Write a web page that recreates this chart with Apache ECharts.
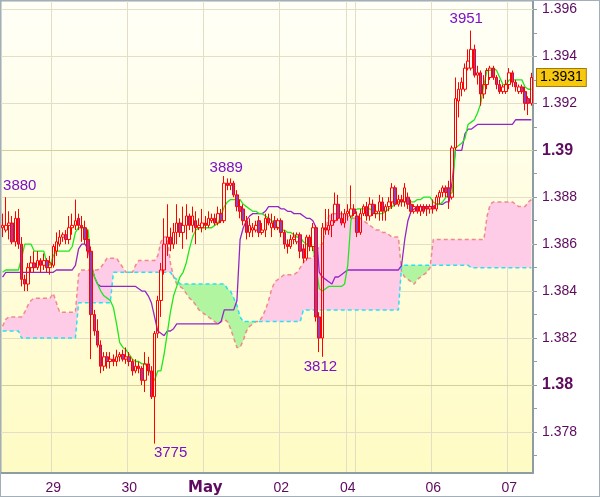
<!DOCTYPE html>
<html><head><meta charset="utf-8">
<script src="https://cdn.jsdelivr.net/npm/echarts@6/dist/echarts.min.js"></script>
<style>html,body{margin:0;padding:0;background:#fff}#c{width:600px;height:497px}</style>
</head><body><div id="c"></div>
<script>
// ---- hourly OHLC (EUR/USD-style quote) ----
const open = [
1.3867,1.3866,1.3868,1.3869,1.3861,1.3871,1.3860,1.3845,1.3843,1.3850,
1.3852,1.3850,1.3853,1.3851,1.3853,1.3850,1.3851,1.3857,1.3860,1.3863,
1.3864,1.3862,1.3867,1.3868,1.3871,1.3868,1.3867,1.3862,1.3857,1.3830,
1.3823,1.3817,1.3808,1.3812,1.3810,1.3811,1.3810,1.3812,1.3813,1.3811,
1.3812,1.3810,1.3806,1.3808,1.3807,1.3802,1.3809,1.3806,1.3795,1.3822,
1.3836,1.3849,1.3860,1.3863,1.3860,1.3865,1.3869,1.3865,1.3868,1.3872,
1.3868,1.3870,1.3867,1.3867,1.3869,1.3868,1.3870,1.3871,1.3869,1.3873,
1.3870,1.3886,1.3885,1.3886,1.3881,1.3876,1.3875,1.3870,1.3865,1.3866,
1.3866,1.3870,1.3865,1.3866,1.3871,1.3867,1.3870,1.3867,1.3870,1.3865,
1.3860,1.3859,1.3862,1.3861,1.3864,1.3858,1.3854,1.3863,1.3859,1.3867,
1.3829,1.3820,1.3867,1.3866,1.3868,1.3870,1.3877,1.3871,1.3869,1.3873,
1.3872,1.3875,1.3872,1.3865,1.3873,1.3876,1.3872,1.3877,1.3873,1.3874,
1.3878,1.3874,1.3876,1.3878,1.3884,1.3877,1.3879,1.3878,1.3880,1.3877,
1.3874,1.3876,1.3874,1.3876,1.3876,1.3875,1.3876,1.3875,1.3880,1.3882,
1.3884,1.3884,1.3880,1.3901,1.3921,1.3926,1.3926,1.3935,1.3935,1.3943,
1.3932,1.3933,1.3924,1.3928,1.3931,1.3935,1.3931,1.3928,1.3925,1.3925,
1.3928,1.3933,1.3929,1.3925,1.3927,1.3925,1.3922,1.3920];
const close = [
1.3868,1.3868,1.3869,1.3861,1.3871,1.3860,1.3845,1.3843,1.3850,1.3852,
1.3850,1.3853,1.3851,1.3853,1.3850,1.3852,1.3859,1.3861,1.3863,1.3864,
1.3862,1.3867,1.3868,1.3870,1.3868,1.3867,1.3862,1.3857,1.3830,1.3823,
1.3817,1.3808,1.3812,1.3810,1.3811,1.3810,1.3812,1.3813,1.3811,1.3812,
1.3810,1.3806,1.3808,1.3807,1.3802,1.3809,1.3806,1.3795,1.3822,1.3836,
1.3849,1.3860,1.3863,1.3860,1.3865,1.3869,1.3865,1.3868,1.3872,1.3868,
1.3872,1.3867,1.3868,1.3869,1.3868,1.3871,1.3871,1.3869,1.3873,1.3870,
1.3886,1.3885,1.3886,1.3881,1.3876,1.3874,1.3870,1.3865,1.3868,1.3867,
1.3868,1.3865,1.3866,1.3871,1.3869,1.3869,1.3867,1.3870,1.3865,1.3860,
1.3859,1.3862,1.3863,1.3864,1.3857,1.3854,1.3863,1.3859,1.3867,1.3829,
1.3820,1.3867,1.3866,1.3868,1.3870,1.3877,1.3871,1.3869,1.3873,1.3874,
1.3875,1.3873,1.3865,1.3873,1.3876,1.3872,1.3877,1.3873,1.3874,1.3878,
1.3874,1.3876,1.3878,1.3884,1.3877,1.3879,1.3878,1.3884,1.3877,1.3874,
1.3876,1.3874,1.3876,1.3874,1.3875,1.3876,1.3875,1.3880,1.3882,1.3884,
1.3882,1.3880,1.3901,1.3922,1.3926,1.3929,1.3935,1.3938,1.3943,1.3932,
1.3933,1.3924,1.3928,1.3934,1.3935,1.3931,1.3928,1.3925,1.3927,1.3928,
1.3933,1.3929,1.3927,1.3927,1.3925,1.3920,1.3920,1.3931];
const low = [
1.3863,1.3865,1.3862,1.3860,1.3859,1.3858,1.3842,1.3840,1.3840,1.3848,
1.3848,1.3849,1.3848,1.3849,1.3848,1.3847,1.3850,1.3855,1.3859,1.3861,
1.3860,1.3860,1.3864,1.3866,1.3866,1.3861,1.3860,1.3854,1.3811,1.3821,
1.3816,1.3805,1.3806,1.3807,1.3807,1.3808,1.3808,1.3810,1.3810,1.3809,
1.3808,1.3804,1.3805,1.3805,1.3800,1.3797,1.3804,1.3794,1.3775,1.3820,
1.3829,1.3847,1.3855,1.3857,1.3858,1.3860,1.3863,1.3858,1.3862,1.3866,
1.3865,1.3860,1.3866,1.3865,1.3866,1.3867,1.3869,1.3868,1.3868,1.3869,
1.3869,1.3883,1.3883,1.3880,1.3874,1.3871,1.3868,1.3862,1.3863,1.3863,
1.3865,1.3863,1.3864,1.3863,1.3868,1.3863,1.3866,1.3866,1.3863,1.3858,
1.3856,1.3858,1.3860,1.3860,1.3854,1.3852,1.3853,1.3857,1.3857,1.3827,
1.3814,1.3812,1.3864,1.3864,1.3863,1.3869,1.3870,1.3868,1.3867,1.3870,
1.3871,1.3872,1.3863,1.3864,1.3872,1.3870,1.3870,1.3872,1.3871,1.3870,
1.3870,1.3870,1.3874,1.3875,1.3876,1.3876,1.3876,1.3876,1.3875,1.3873,
1.3873,1.3873,1.3872,1.3873,1.3872,1.3873,1.3873,1.3874,1.3877,1.3880,
1.3880,1.3875,1.3879,1.3900,1.3914,1.3923,1.3925,1.3934,1.3934,1.3931,
1.3928,1.3919,1.3922,1.3926,1.3930,1.3930,1.3926,1.3924,1.3924,1.3924,
1.3926,1.3927,1.3925,1.3924,1.3924,1.3917,1.3915,1.3919];
const high = [
1.3873,1.3880,1.3874,1.3872,1.3874,1.3875,1.3863,1.3847,1.3852,1.3855,
1.3857,1.3857,1.3854,1.3856,1.3854,1.3855,1.3860,1.3865,1.3866,1.3865,
1.3866,1.3872,1.3873,1.3879,1.3873,1.3872,1.3870,1.3866,1.3859,1.3832,
1.3828,1.3819,1.3814,1.3814,1.3814,1.3813,1.3815,1.3814,1.3815,1.3816,
1.3814,1.3811,1.3811,1.3810,1.3808,1.3814,1.3812,1.3808,1.3823,1.3838,
1.3852,1.3871,1.3877,1.3867,1.3869,1.3877,1.3871,1.3876,1.3877,1.3873,
1.3876,1.3874,1.3871,1.3875,1.3872,1.3874,1.3873,1.3873,1.3876,1.3875,
1.3889,1.3888,1.3888,1.3887,1.3883,1.3879,1.3877,1.3872,1.3871,1.3869,
1.3870,1.3872,1.3869,1.3873,1.3873,1.3873,1.3872,1.3871,1.3871,1.3866,
1.3862,1.3864,1.3865,1.3865,1.3865,1.3860,1.3864,1.3864,1.3869,1.3868,
1.3831,1.3869,1.3875,1.3875,1.3873,1.3882,1.3881,1.3874,1.3875,1.3877,
1.3885,1.3877,1.3874,1.3875,1.3877,1.3878,1.3880,1.3879,1.3877,1.3881,
1.3880,1.3877,1.3880,1.3886,1.3885,1.3881,1.3881,1.3886,1.3882,1.3879,
1.3877,1.3877,1.3877,1.3877,1.3877,1.3877,1.3879,1.3881,1.3883,1.3885,
1.3885,1.3887,1.3902,1.3931,1.3929,1.3931,1.3937,1.3943,1.3951,1.3945,
1.3936,1.3934,1.3932,1.3935,1.3936,1.3936,1.3932,1.3930,1.3928,1.3930,
1.3935,1.3934,1.3930,1.3928,1.3928,1.3927,1.3923,1.3933];

// ---- Ichimoku lines ----
const tenkan = [
1.3848,1.3849,1.3849,1.3849,1.3849,1.3849,1.3854,1.3860,1.3860,1.3860,
1.3857,1.3857,1.3857,1.3857,1.3852,1.3851,1.3855,1.3857,1.3857,1.3857,
1.3857,1.3857,1.3859,1.3865,1.3867,1.3867,1.3867,1.3866,1.3852,1.3846,
1.3843,1.3840,1.3838,1.3837,1.3836,1.3833,1.3826,1.3818,1.3816,1.3815,
1.3813,1.3811,1.3810,1.3810,1.3809,1.3809,1.3807,1.3804,1.3802,1.3806,
1.3806,1.3813,1.3822,1.3831,1.3838,1.3842,1.3846,1.3848,1.3852,1.3858,
1.3863,1.3866,1.3867,1.3867,1.3867,1.3867,1.3867,1.3868,1.3869,1.3872,
1.3876,1.3878,1.3879,1.3879,1.3879,1.3879,1.3877,1.3876,1.3875,1.3874,
1.3874,1.3873,1.3873,1.3872,1.3871,1.3870,1.3868,1.3867,1.3866,1.3866,
1.3865,1.3865,1.3864,1.3863,1.3863,1.3861,1.3860,1.3859,1.3859,1.3851,
1.3841,1.3840,1.3841,1.3842,1.3842,1.3842,1.3842,1.3842,1.3843,1.3851,
1.3870,1.3874,1.3875,1.3875,1.3875,1.3875,1.3875,1.3874,1.3873,1.3873,
1.3873,1.3874,1.3875,1.3876,1.3877,1.3878,1.3878,1.3878,1.3878,1.3878,
1.3878,1.3879,1.3879,1.3880,1.3880,1.3880,1.3878,1.3877,1.3877,1.3878,
1.3880,1.3881,1.3882,1.3901,1.3902,1.3903,1.3905,1.3911,1.3912,1.3913,
1.3916,1.3920,1.3928,1.3934,1.3934,1.3935,1.3934,1.3931,1.3928,1.3928,
1.3930,1.3930,1.3930,1.3930,1.3930,1.3927,1.3926,1.3926];
const kijun = [
1.3846,1.3848,1.3848,1.3848,1.3848,1.3848,1.3848,1.3848,1.3848,1.3848,
1.3848,1.3848,1.3848,1.3848,1.3848,1.3848,1.3848,1.3849,1.3849,1.3849,
1.3849,1.3849,1.3849,1.3851,1.3858,1.3860,1.3860,1.3858,1.3851,1.3846,
1.3843,1.3842,1.3842,1.3842,1.3842,1.3842,1.3842,1.3842,1.3842,1.3842,
1.3842,1.3842,1.3842,1.3841,1.3840,1.3840,1.3838,1.3835,1.3829,1.3823,
1.3822,1.3821,1.3823,1.3823,1.3824,1.3826,1.3826,1.3826,1.3826,1.3826,
1.3826,1.3826,1.3826,1.3826,1.3826,1.3826,1.3826,1.3826,1.3826,1.3827,
1.3832,1.3832,1.3832,1.3832,1.3836,1.3862,1.3867,1.3870,1.3872,1.3873,
1.3873,1.3873,1.3873,1.3874,1.3876,1.3876,1.3876,1.3876,1.3875,1.3875,
1.3874,1.3874,1.3873,1.3873,1.3873,1.3872,1.3871,1.3871,1.3870,1.3867,
1.3848,1.3846,1.3845,1.3844,1.3843,1.3846,1.3846,1.3847,1.3848,1.3849,
1.3849,1.3849,1.3849,1.3849,1.3849,1.3849,1.3849,1.3849,1.3849,1.3849,
1.3849,1.3849,1.3849,1.3849,1.3849,1.3849,1.3851,1.3862,1.3870,1.3874,
1.3875,1.3876,1.3876,1.3876,1.3876,1.3876,1.3876,1.3877,1.3877,1.3877,
1.3878,1.3878,1.3887,1.3900,1.3900,1.3900,1.3907,1.3909,1.3909,1.3910,
1.3911,1.3911,1.3911,1.3911,1.3911,1.3911,1.3911,1.3911,1.3911,1.3911,
1.3911,1.3911,1.3913,1.3913,1.3913,1.3913,1.3913,1.3913];
const spanA = [
1.3823,1.3823,1.3823,1.3823,1.3823,1.3823,1.3820,1.3820,1.3820,1.3820,
1.3820,1.3820,1.3820,1.3820,1.3820,1.3820,1.3820,1.3820,1.3820,1.3820,
1.3820,1.3820,1.3820,1.3820,1.3835,1.3835,1.3835,1.3835,1.3835,1.3835,
1.3835,1.3835,1.3835,1.3835,1.3835,1.3848,1.3848,1.3848,1.3848,1.3848,
1.3848,1.3848,1.3848,1.3848,1.3848,1.3848,1.3848,1.3848,1.3848,1.3848,
1.3848,1.3848,1.3848,1.3848,1.3846,1.3845,1.3843,1.3843,1.3843,1.3843,
1.3843,1.3843,1.3843,1.3843,1.3843,1.3843,1.3843,1.3843,1.3843,1.3843,
1.3843,1.3841,1.3840,1.3837,1.3834,1.3829,1.3827,1.3827,1.3827,1.3827,
1.3827,1.3827,1.3827,1.3827,1.3827,1.3827,1.3827,1.3827,1.3827,1.3827,
1.3827,1.3827,1.3827,1.3827,1.3827,1.3832,1.3832,1.3832,1.3832,1.3832,
1.3832,1.3832,1.3832,1.3832,1.3832,1.3832,1.3832,1.3832,1.3832,1.3832,
1.3832,1.3832,1.3832,1.3832,1.3832,1.3832,1.3832,1.3832,1.3832,1.3832,
1.3832,1.3832,1.3832,1.3832,1.3832,1.3832,1.3851,1.3851,1.3851,1.3851,
1.3851,1.3851,1.3851,1.3851,1.3851,1.3851,1.3851,1.3851,1.3851,1.3851,
1.3851,1.3851,1.3851,1.3851,1.3851,1.3851,1.3851,1.3851,1.3850,1.3850,
1.3850,1.3850,1.3850,1.3850,1.3850,1.3850,1.3850,1.3850,1.3850,1.3850,
1.3850,1.3850,1.3850,1.3850,1.3850,1.3850,1.3850,1.3850];
const spanB = [
1.3825,1.3828,1.3829,1.3829,1.3829,1.3829,1.3829,1.3831,1.3834,1.3836,
1.3837,1.3837,1.3837,1.3837,1.3837,1.3837,1.3839,1.3835,1.3831,1.3831,
1.3831,1.3831,1.3831,1.3831,1.3847,1.3849,1.3849,1.3849,1.3849,1.3849,
1.3849,1.3850,1.3852,1.3854,1.3854,1.3854,1.3854,1.3852,1.3850,1.3848,
1.3848,1.3848,1.3851,1.3853,1.3853,1.3853,1.3853,1.3853,1.3853,1.3855,
1.3861,1.3863,1.3863,1.3852,1.3846,1.3843,1.3842,1.3841,1.3839,1.3837,
1.3836,1.3834,1.3832,1.3831,1.3830,1.3829,1.3828,1.3827,1.3826,1.3827,
1.3828,1.3827,1.3824,1.3820,1.3816,1.3816,1.3819,1.3823,1.3825,1.3826,
1.3827,1.3827,1.3829,1.3832,1.3836,1.3841,1.3844,1.3845,1.3846,1.3847,
1.3847,1.3847,1.3847,1.3848,1.3850,1.3852,1.3854,1.3854,1.3854,1.3857,
1.3859,1.3860,1.3866,1.3872,1.3873,1.3873,1.3873,1.3873,1.3873,1.3872,
1.3871,1.3871,1.3871,1.3871,1.3870,1.3869,1.3868,1.3867,1.3866,1.3866,
1.3865,1.3865,1.3864,1.3863,1.3863,1.3863,1.3848,1.3846,1.3845,1.3844,
1.3843,1.3845,1.3846,1.3847,1.3848,1.3850,1.3862,1.3862,1.3862,1.3862,
1.3862,1.3862,1.3862,1.3862,1.3862,1.3862,1.3862,1.3862,1.3862,1.3862,
1.3862,1.3862,1.3862,1.3872,1.3877,1.3878,1.3878,1.3878,1.3878,1.3878,
1.3878,1.3878,1.3877,1.3876,1.3876,1.3876,1.3878,1.3879];

// ---- axis labels ----
const dayTickIdx = [16, 40, 64, 88, 109, 136, 160];
const dayTickText = ['29', '30', 'May', '02', '04', '06', '07'];
const dayGridIdx = [16, 40, 64, 88, 109, 112, 136, 160];
const priceLabelVals = [1.378, 1.380, 1.382, 1.384, 1.386, 1.388, 1.390, 1.392, 1.394, 1.396];
const priceLabelText = ['1.378', '1.38', '1.382', '1.384', '1.386', '1.388', '1.39', '1.392', '1.394', '1.396'];
const priceTickVals = [1.377,1.378,1.379,1.380,1.381,1.382,1.383,1.384,1.385,1.386,1.387,1.388,1.389,1.390,1.391,1.392,1.393,1.394,1.395,1.396];
const lastPrice = 1.3931;
const lastPriceText = '1.3931';
// ---- extreme annotations ----
const peakIdx = [1, 70, 48, 101, 148];
const peakVal = [1.3880, 1.3889, 1.3775, 1.3812, 1.3951];
const peakText = ['3880', '3889', '3775', '3812', '3951'];

const peakOffsets = [[14, -11], [2, -8], [16, 9], [-2, 10], [-5, -12]];
const categories = open.map((_, i) => 'h' + i);
const candles = open.map((o, i) => [o, close[i], low[i], high[i]]);
const cloudBase = spanA.map((a, i) => Math.min(a, spanB[i]));
const cloudPink = spanA.map((a, i) => Math.max(spanB[i] - a, 0));
const cloudGreen = spanA.map((a, i) => Math.max(a - spanB[i], 0));

const FONT = 'Liberation Sans';
const LBL = '#5e0a5e';
const chart = echarts.init(document.getElementById('c'), null, {renderer: 'canvas'});
const gridLineData = priceLabelVals.map(v => ({
  yAxis: v,
  lineStyle: {color: (Math.abs(v - 1.38) < 1e-9 || Math.abs(v - 1.39) < 1e-9) ? '#d4cf9c' : '#e2dfc6', width: 1, type: 'solid'}
}));

const lineBase = {type: 'line', symbol: 'none', silent: true, animation: false};
chart.setOption({
  animation: false,
  backgroundColor: '#ffffff',
  grid: {
    left: 1, right: 67, top: 1, bottom: 24, show: true,
    backgroundColor: new echarts.graphic.LinearGradient(0, 0, 0, 1, [
      {offset: 0, color: '#fffff7'}, {offset: 1, color: '#fffbc4'}]),
    borderColor: '#9aa8b0', borderWidth: 1
  },
  xAxis: {
    type: 'category', data: categories, boundaryGap: true,
    axisLine: {lineStyle: {color: '#8e9ca4', width: 2}},
    axisTick: {interval: (i) => dayTickIdx.indexOf(i) >= 0, length: 4, lineStyle: {color: '#8e9ca4'}},
    axisLabel: {
      interval: (i) => dayTickIdx.indexOf(i) >= 0,
      formatter: (v, i) => { const k = dayTickIdx.indexOf(i); if (k < 0) return ''; const t = dayTickText[k]; return t === 'May' ? '{b|' + t + '}' : t; },
      color: LBL, fontFamily: FONT, fontSize: 14, margin: 8,
      rich: {b: {fontFamily: 'DejaVu Sans', fontWeight: 'bold', fontSize: 15, color: LBL}}
    },
    splitLine: {show: true, interval: (i) => dayGridIdx.indexOf(i) >= 0, lineStyle: {color: '#e2dfc6', width: 1}}
  },
  yAxis: {
    type: 'value', position: 'right', min: 1.37625, max: 1.39636, scale: true,
    axisLine: {show: true, lineStyle: {color: '#8e9ca4', width: 2}},
    axisTick: {show: true, customValues: priceTickVals, length: 4, lineStyle: {color: '#8e9ca4'}},
    axisLabel: {
      customValues: priceLabelVals, margin: 9,
      formatter: (v) => { let k = -1; priceLabelVals.forEach((p, j) => { if (Math.abs(p - v) < 1e-7) k = j; }); if (k < 0) return ''; const t = priceLabelText[k]; return t.length === 4 ? '{b|' + t + '}' : t; },
      color: LBL, fontFamily: FONT, fontSize: 14,
      rich: {b: {fontFamily: FONT, fontWeight: 'bold', fontSize: 16, color: LBL}}
    },
    splitLine: {show: false}
  },
  series: [
    Object.assign({}, lineBase, {
      name: 'cloudBase', data: cloudBase, stack: 'cloud', z: 2,
      lineStyle: {width: 0, opacity: 0},
      markLine: {silent: true, symbol: 'none', z: 1, precision: 4, label: {show: false}, data: gridLineData, animation: false}
    }),
    Object.assign({}, lineBase, {name: 'cloudPink', data: cloudPink, stack: 'cloud', z: 2,
      lineStyle: {width: 0, opacity: 0}, areaStyle: {color: '#ffcce8', opacity: 1}}),
    Object.assign({}, lineBase, {name: 'cloudGreen', data: cloudGreen, stack: 'cloud', z: 2,
      lineStyle: {width: 0, opacity: 0}, areaStyle: {color: '#b2f5a0', opacity: 1}}),
    Object.assign({}, lineBase, {name: 'spanB', data: spanB, z: 3,
      lineStyle: {color: '#f08a8a', width: 1.5, type: [4, 3]}}),
    Object.assign({}, lineBase, {name: 'spanA', data: spanA, z: 3,
      lineStyle: {color: '#26e2f0', width: 1.5, type: [4, 3]}}),
    Object.assign({}, lineBase, {name: 'kijun', data: kijun, z: 3,
      lineStyle: {color: '#9426c8', width: 1.3}}),
    Object.assign({}, lineBase, {name: 'tenkan', data: tenkan, z: 3,
      lineStyle: {color: '#1ee81e', width: 1.3}}),
    {
      type: 'candlestick', name: 'price', data: candles, z: 4, barWidth: 3, silent: true, animation: false,
      itemStyle: {color: 'rgba(255,255,255,0)', color0: '#9440b4', borderColor: '#ff0000', borderColor0: '#ff0000', borderWidth: 1},
      markPoint: {
        silent: true, symbol: 'circle', symbolSize: 0, animation: false,
        data: peakIdx.map((ix, k) => ({
          coord: [ix, peakVal[k]], value: peakText[k],
          label: {show: true, position: 'inside', offset: peakOffsets[k], formatter: peakText[k],
            color: '#7a10c8', fontFamily: FONT, fontSize: 15}
        }))
      },
      markLine: {
        silent: true, symbol: 'none', animation: false, precision: 4,
        lineStyle: {color: 'rgba(0,0,0,0)', width: 1, type: 'solid'},
        data: [{yAxis: lastPrice}],
        label: {show: true, position: 'end', distance: 4, formatter: lastPriceText,
          color: '#000', fontFamily: FONT, fontSize: 14, padding: [2, 3, 1, 3],
          backgroundColor: '#f6c80e',
          borderColor: '#a07a10', borderWidth: 1}
      }
    }
  ],
  graphic: [{type: 'rect', shape: {x: 0, y: 0, width: 600, height: 497}, style: {fill: 'none', stroke: '#a2aeb8', lineWidth: 2}, silent: true, z: 100}]
});
</script></body></html>
